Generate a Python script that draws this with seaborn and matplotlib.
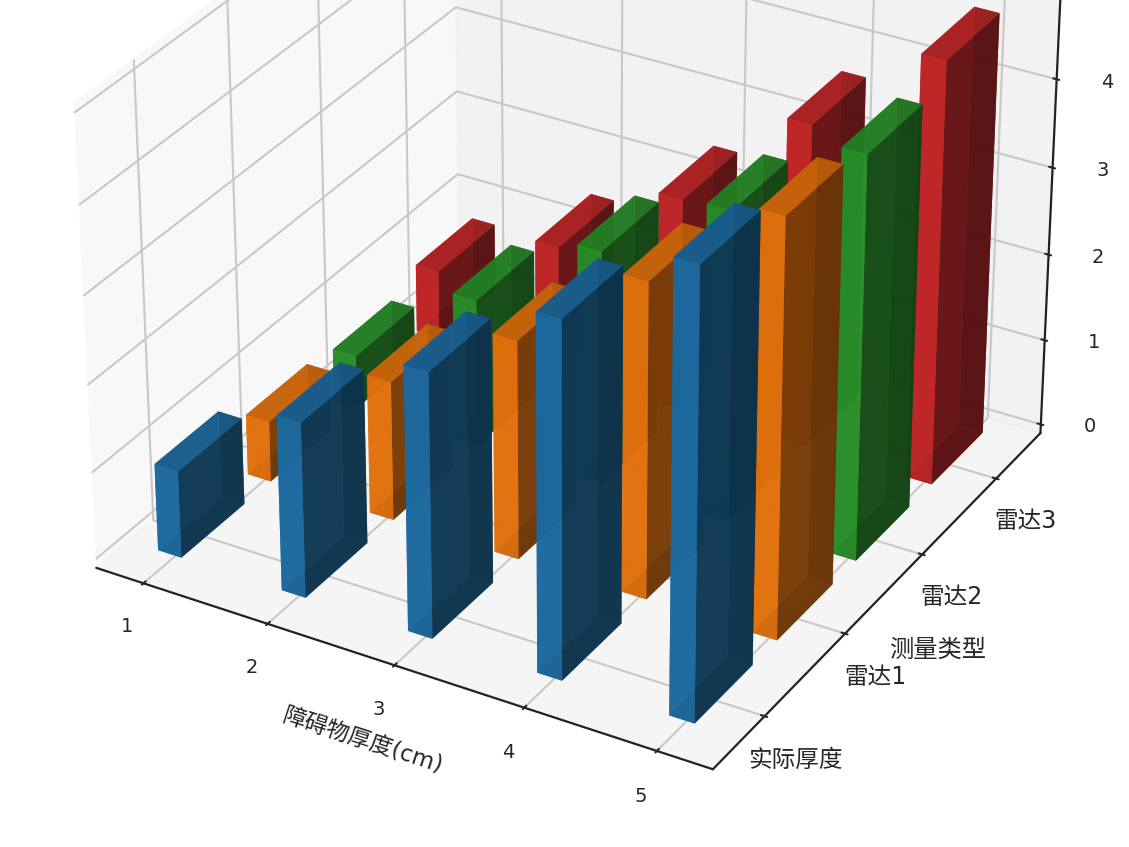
import numpy as np
import matplotlib.pyplot as plt
import seaborn as sns

sns.set_style("white")
plt.rcParams['font.family'] = ['DejaVu Sans', 'Noto Sans CJK SC']
plt.rcParams['axes.unicode_minus'] = False

# bar heights
thickness = [1, 2, 3, 4, 5]
types = ['实际厚度', '雷达1', '雷达2', '雷达3']
actual = [1.0, 2.0, 3.0, 4.0, 5.0]
radar1 = [0.7, 1.6, 2.5, 3.58, 4.7]
radar2 = [0.62, 1.7, 2.68, 3.55, 4.57]
radar3 = [0.8, 1.5, 2.47, 3.72, 4.82]
series = [actual, radar1, radar2, radar3]
colors = sns.color_palette("tab10", 4)

fig = plt.figure(figsize=(11.29, 8.47), dpi=100)
ax = fig.add_axes([-0.117, 0.01, 1.23, 1.296], projection='3d')

for j, vals in enumerate(series):
    for i, v in enumerate(vals):
        ax.bar3d(i + 0.92, j - 0.35, 0, 0.19, 0.7, v, color=colors[j], alpha=0.85, shade=True, edgecolor='none')

ax.set_xticks(thickness)
ax.set_yticks(range(len(types)))
ax.set_yticklabels(types)
ax.set_zticks(range(6))
ax.set_xlabel('障碍物厚度(cm)', fontsize=16.5, labelpad=17)
ax.set_ylabel('测量类型', fontsize=17.5, labelpad=15)
ax.tick_params(axis='x', labelsize=14, pad=10)
ax.tick_params(axis='y', labelsize=17, pad=12)
ax.tick_params(axis='z', labelsize=14, pad=14)
for axis in (ax.xaxis, ax.yaxis, ax.zaxis):
    axis._axinfo['grid']['linewidth'] = 1.5
    axis._axinfo['grid']['color'] = '#c8c8c8'
    axis._axinfo['tick']['inward_factor'] = 0.05
    axis._axinfo['tick']['outward_factor'] = 0.07
    axis._axinfo['tick']['linewidth'] = {True: 1.5, False: 1.0}
    axis._axinfo['tick']['color'] = '#222222'
    axis.line.set_linewidth(1.6)
    axis.line.set_color('#222222')

fig.savefig('out.png', dpi=100)
